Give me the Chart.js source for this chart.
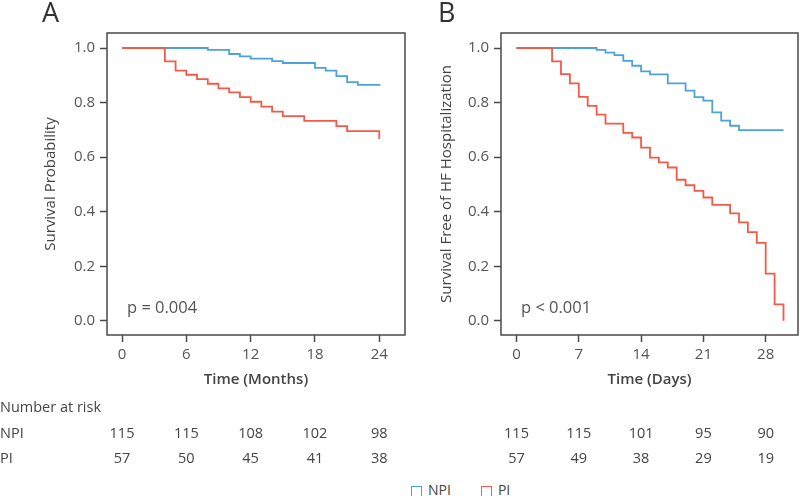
<!DOCTYPE html>
<html>
<head>
<meta charset="utf-8">
<script src="https://cdn.jsdelivr.net/npm/chart.js@4.4.1/dist/chart.umd.min.js"></script>
<style>
  body { margin: 0; background: #fff; }
  #wrap { position: relative; width: 800px; height: 498px; overflow: hidden;
          font-family: "Open Sans", sans-serif; color: #444; }
  canvas { position: absolute; top: 0; }
  .panel { position: absolute; top: -7px; font-size: 27px; font-weight: 500; color: #333; }
  .pval { position: absolute; top: 295px; font-size: 16.5px; color: #555; }
  .txt { position: absolute; font-size: 14.5px; white-space: nowrap; color: #444; }
  .num { position: absolute; font-size: 14.5px; transform: translateX(-50%); color: #444; }
  #legend { position: absolute; top: 480px; left: 411px; white-space: nowrap;
            font-size: 14px; color: #444; }
  .key { display: inline-block; width: 9px; height: 9px; border: 1.5px solid; border-bottom: none;
         margin-right: 6px; position: relative; top: 1px; }
</style>
</head>
<body>
<div id="wrap">
  <canvas id="chartA" width="410" height="400" style="left:0"></canvas>
  <canvas id="chartB" width="400" height="400" style="left:400px"></canvas>
  <div class="panel" style="left:42px">A</div>
  <div class="panel" style="left:438px">B</div>
  <div class="pval" style="left:127px">p = 0.004</div>
  <div class="pval" style="left:521px">p &lt; 0.001</div>
  <div id="risk"></div>
  <div id="legend"></div>
</div>
<script>
// ── Datos ────────────────────────────────────────────────────────────────
const monthTicks = [0, 6, 12, 18, 24];
const dayTicks   = [0, 7, 14, 21, 28];
const survTicks  = [0, 0.2, 0.4, 0.6, 0.8, 1.0];

// Panel A: mortalidad (meses)
const aTimeNPI = [0, 8, 10, 11, 12, 14, 15, 18, 19, 20, 21, 22, 24.1];
const aSurvNPI = [1, 0.993, 0.978, 0.969, 0.961, 0.952, 0.945, 0.927, 0.917, 0.897, 0.875, 0.865, 0.865];
const aTimePI  = [0, 4, 5, 6, 7, 8, 9, 10, 11, 12, 13, 14, 15, 17, 20, 21, 24];
const aSurvPI  = [1, 0.951, 0.917, 0.902, 0.886, 0.869, 0.852, 0.837, 0.820, 0.803, 0.785, 0.767, 0.750, 0.733, 0.714, 0.695, 0.666];

// Panel B: hospitalización por IC (días)
const bTimeNPI = [0, 9, 10, 11, 12, 13, 14, 15, 17, 19, 20, 21, 22, 23, 24, 25, 30];
const bSurvNPI = [1, 0.993, 0.983, 0.974, 0.953, 0.935, 0.914, 0.903, 0.870, 0.844, 0.820, 0.807, 0.764, 0.734, 0.715, 0.699, 0.699];
const bTimePI  = [0, 4, 5, 6, 7, 8, 9, 10, 12, 13, 14, 15, 16, 17, 18, 19, 20, 21, 22, 24, 25, 26, 27, 28, 29, 30];
const bSurvPI  = [1, 0.951, 0.904, 0.870, 0.821, 0.788, 0.756, 0.723, 0.689, 0.672, 0.635, 0.598, 0.581, 0.562, 0.517, 0.497, 0.476, 0.452, 0.425, 0.394, 0.361, 0.325, 0.286, 0.173, 0.060, 0.0];

// Número en riesgo
const riskGroups = ['NPI', 'PI'];
const aRiskNPI = [115, 115, 108, 102, 98];
const aRiskPI  = [57, 50, 45, 41, 38];
const bRiskNPI = [115, 115, 101, 95, 90];
const bRiskPI  = [57, 49, 38, 29, 19];

const BLUE = '#4da2dc';
const RED  = '#f15b47';
const AXIS = '#4a4a4a';

// ── Helpers ──────────────────────────────────────────────────────────────
const pts = (ts, ss) => ts.map((t, i) => ({ x: t, y: ss[i] }));

const frame = {
  id: 'frame',
  afterDatasetsDraw(c) {
    const { ctx, chartArea: a } = c;
    ctx.save();
    ctx.strokeStyle = AXIS;
    ctx.lineWidth = 1.5;
    ctx.strokeRect(a.left, a.top, a.right - a.left, a.bottom - a.top);
    ctx.restore();
  }
};

function makeChart(id, o) {
  const tickFont = { family: '"Open Sans", sans-serif', size: 15 };
  const titleFont = { family: '"Open Sans", sans-serif', size: 15, weight: '600' };
  return new Chart(document.getElementById(id), {
    type: 'line',
    data: {
      datasets: [
        // 'before' = tramo horizontal primero y caída después (curva KM)
        { label: 'PI',  data: pts(o.tPI, o.sPI),  borderColor: RED,  borderWidth: 1.8, pointRadius: 0, stepped: 'before' },
        { label: 'NPI', data: pts(o.tNPI, o.sNPI), borderColor: BLUE, borderWidth: 1.8, pointRadius: 0, stepped: 'before' },
      ],
    },
    options: {
      responsive: false,
      animation: false,
      layout: { padding: { left: 0, top: 33, right: o.padRight, bottom: 0 } },
      plugins: { legend: { display: false }, tooltip: { enabled: false } },
      scales: {
        x: {
          type: 'linear', min: o.xMin, max: o.xMax,
          afterBuildTicks: s => { s.ticks = o.xTicks.map(v => ({ value: v })); },
          afterFit: s => { s.height = 65; },
          border: { display: false },
          grid: { drawOnChartArea: false, tickLength: 7, tickColor: AXIS, tickWidth: 1.5 },
          ticks: { color: '#555', font: tickFont, padding: 4, maxRotation: 0 },
          title: { display: true, text: o.xTitle, color: '#444', font: titleFont, padding: { top: 0, bottom: 11 } },
        },
        y: {
          type: 'linear', min: -0.052, max: 1.055,
          afterBuildTicks: s => { s.ticks = survTicks.map(v => ({ value: v })); },
          afterFit: s => { s.width = o.yWidth; },
          border: { display: false },
          grid: { drawOnChartArea: false, tickLength: 7, tickColor: AXIS, tickWidth: 1.5 },
          ticks: { color: '#555', font: tickFont, padding: 5, callback: v => v.toFixed(1) },
          title: { display: true, text: o.yTitle, color: '#444', font: { family: '"Open Sans", sans-serif', size: 15 }, padding: { top: o.yTitlePad, bottom: 0 } },
        },
      },
    },
    plugins: [frame],
  });
}

const chartA = makeChart('chartA', {
  tNPI: aTimeNPI, sNPI: aSurvNPI, tPI: aTimePI, sPI: aSurvPI,
  xMin: -1.4, xMax: 26.4, xTicks: monthTicks, xTitle: 'Time (Months)',
  yTitle: 'Survival Probability', yWidth: 107, yTitlePad: 42, padRight: 5,
});

const chartB = makeChart('chartB', {
  tNPI: bTimeNPI, sNPI: bSurvNPI, tPI: bTimePI, sPI: bSurvPI,
  xMin: -1.74, xMax: 31.63, xTicks: dayTicks, xTitle: 'Time (Days)',
  yTitle: 'Survival Free of HF Hospitalization', yWidth: 101, yTitlePad: 38, padRight: 2,
});

// ── Tabla de número en riesgo (alineada con las escalas de cada panel) ──────
const risk = document.getElementById('risk');
function addText(cls, text, left, top) {
  const d = document.createElement('div');
  d.className = cls;
  d.textContent = text;
  d.style.left = left + 'px';
  d.style.top = top + 'px';
  risk.appendChild(d);
}
const rowTop = [423, 448];
addText('txt', 'Number at risk', 0, 397);
riskGroups.forEach((g, r) => addText('txt', g, 0, rowTop[r]));
[[chartA, 0, monthTicks, [aRiskNPI, aRiskPI]], [chartB, 400, dayTicks, [bRiskNPI, bRiskPI]]]
  .forEach(([chart, off, ticks, rows]) => {
    rows.forEach((vals, r) => {
      vals.forEach((v, i) => {
        addText('num', String(v), off + chart.scales.x.getPixelForValue(ticks[i]), rowTop[r]);
      });
    });
  });

// ── Leyenda ────────────────────────────────────────────────────────────────
document.getElementById('legend').innerHTML =
  `<span class="key" style="border-color:${BLUE}"></span>NPI` +
  `<span class="key" style="border-color:${RED};margin-left:30px"></span>PI`;
</script>
</body>
</html>
